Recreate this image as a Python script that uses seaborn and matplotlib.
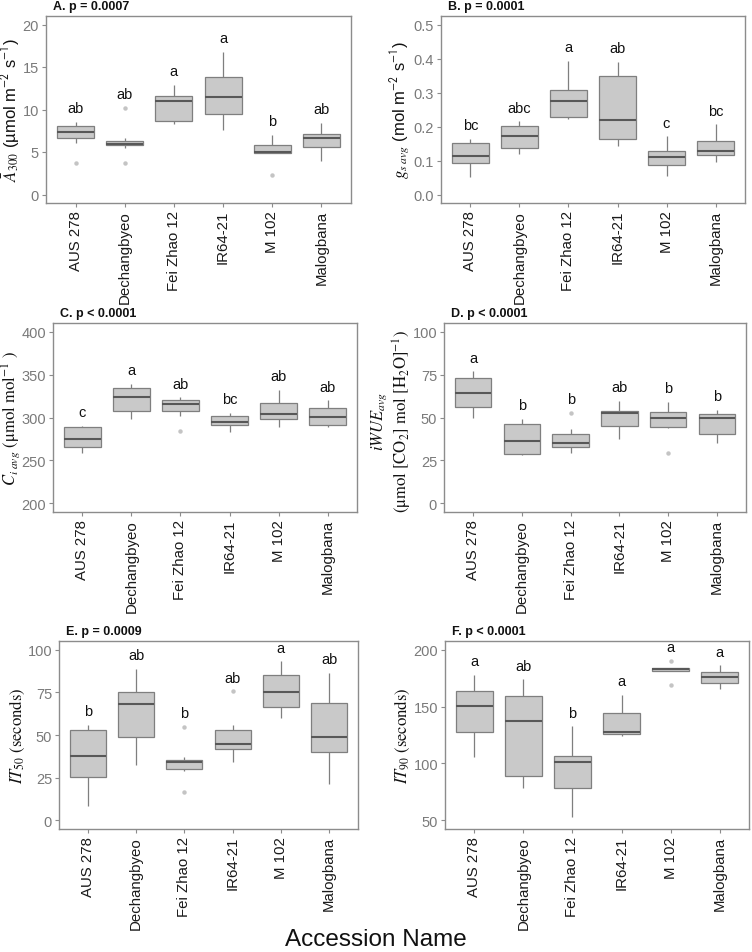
import numpy as np
import pandas as pd
import matplotlib
matplotlib.use("Agg")
import matplotlib.pyplot as plt
import seaborn as sns

sns.set_style("white")
plt.rcParams["font.family"] = ["Liberation Sans", "DejaVu Sans"]
plt.rcParams["mathtext.fontset"] = "stix"

accessions = ["AUS 278", "Dechangbyeo", "Fei Zhao 12", "IR64-21", "M 102", "Malogbana"]

# Panel A: A300
a_lo = [6.05, 5.46, 8.29, 7.54, 4.83, 4.00]
a_q1 = [6.64, 5.78, 8.64, 9.47, 4.83, 5.58]
a_med = [7.35, 5.93, 10.96, 11.47, 4.99, 6.68]
a_q3 = [8.09, 6.33, 11.63, 13.83, 5.85, 7.07]
a_hi = [8.53, 6.64, 12.93, 16.78, 7.03, 8.41]
a_out = [[3.65], [3.65, 10.2], [], [], [2.24], []]
a_letters = ["ab", "ab", "a", "a", "b", "ab"]

# Panel B: gs avg
b_lo = [0.051, 0.119, 0.223, 0.143, 0.053, 0.096]
b_q1 = [0.092, 0.136, 0.228, 0.163, 0.087, 0.116]
b_med = [0.113, 0.172, 0.274, 0.219, 0.110, 0.128]
b_q3 = [0.151, 0.201, 0.308, 0.348, 0.128, 0.157]
b_hi = [0.164, 0.215, 0.394, 0.391, 0.171, 0.207]
b_out = [[], [], [], [], [], []]
b_letters = ["bc", "abc", "a", "ab", "c", "bc"]

# Panel C: Ci avg
c_lo = [258.1, 298.8, 302.3, 283.3, 288.4, 289.1]
c_q1 = [266.0, 307.4, 307.4, 291.1, 297.7, 291.5]
c_med = [275.2, 324.4, 315.5, 294.6, 304.3, 300.8]
c_q3 = [288.4, 334.0, 320.9, 301.9, 317.0, 310.9]
c_hi = [290.0, 339.0, 323.3, 305.0, 331.8, 319.8]
c_out = [[], [], [284.5], [], [], []]
c_letters = ["c", "a", "ab", "bc", "ab", "ab"]

# Panel D: iWUE avg
d_lo = [49.8, 27.9, 29.6, 37.4, 44.0, 35.1]
d_q1 = [55.9, 28.9, 33.1, 44.8, 44.4, 40.4]
d_med = [64.1, 36.3, 34.9, 52.4, 50.0, 50.0]
d_q3 = [72.9, 46.1, 40.4, 53.6, 53.0, 51.9]
d_hi = [76.8, 49.0, 43.3, 59.6, 58.9, 54.4]
d_out = [[], [], [52.7], [], [29.4], []]
d_letters = ["a", "b", "b", "ab", "b", "b"]

# Panel E: IT50
e_lo = [8.4, 32.3, 28.8, 34.4, 59.9, 21.4]
e_q1 = [25.4, 49.0, 30.1, 42.1, 66.1, 40.0]
e_med = [37.8, 68.2, 34.0, 45.0, 75.3, 48.8]
e_q3 = [52.8, 75.3, 35.6, 52.8, 84.9, 68.6]
e_hi = [56.0, 88.9, 37.0, 55.6, 93.1, 86.5]
e_out = [[], [], [16.6, 54.6], [75.5], [], []]
e_letters = ["b", "ab", "b", "ab", "a", "ab"]

# Panel F: IT90
f_lo = [105.5, 78.1, 53.2, 124.5, 181.3, 165.6]
f_q1 = [127.9, 89.4, 78.9, 125.5, 181.3, 170.6]
f_med = [150.3, 137.5, 100.9, 127.9, 182.8, 176.1]
f_q3 = [163.7, 159.1, 106.4, 144.2, 183.7, 180.5]
f_hi = [177.6, 173.8, 132.5, 160.3, 183.7, 186.0]
f_out = [[], [], [], [], [168.5, 189.8], []]
f_letters = ["a", "ab", "b", "a", "a", "a"]

titles = ["A. p = 0.0007", "B. p = 0.0001", "C. p < 0.0001",
          "D. p < 0.0001", "E. p = 0.0009", "F. p < 0.0001"]

FILL = "#c9c9c9"
EDGE = "#7f7f7f"
MED = "#585858"
FLIER = "#c4c4c4"
SPINE = "#8c8c8c"
TICKC = "#7a7a7a"

W, H = 752, 953
fig = plt.figure(figsize=(W / 100, H / 100), dpi=100)


def rect(l, r, t, b):
    return [l / W, 1 - b / H, (r - l) / W, (b - t) / H]


def build(lo, q1, med, q3, hi, outs):
    rows = []
    for name, l, a, m, b, h, o in zip(accessions, lo, q1, med, q3, hi, outs):
        below = [v for v in o if v < a]
        above = [v for v in o if v > b]
        vals = [below[0] if below else l, l, a, m, m, m, b, h,
                above[0] if above else h]
        rows += [(name, v) for v in vals]
    return pd.DataFrame(rows, columns=["acc", "val"])


def panel(box, stats, letters, yticks, ylabels, title, ylab, ylab_x, serif,
          ylab_size=12, ylab_dy=0):
    l, r, t, b = box
    ax = fig.add_axes(rect(l, r, t, b))
    df = build(*stats)
    sns.boxplot(data=df, x="acc", y="val", order=accessions, ax=ax,
                color=FILL, saturation=1, width=0.75, linewidth=0.9,
                linecolor=EDGE, showcaps=False, whis=1.5,
                flierprops=dict(marker="o", markersize=3.2,
                                markerfacecolor=FLIER, markeredgecolor="none"),
                medianprops=dict(color=MED, linewidth=1.5))
    span = yticks[-1] - yticks[0]
    ax.set_ylim(yticks[0] - 0.05 * span, yticks[-1] + 0.05 * span)
    ax.set_xlim(-0.6, 5.6)
    ax.set_yticks(yticks)
    ax.set_yticklabels(ylabels)
    ax.set_xlabel("")
    ax.set_ylabel("")
    for i, g in enumerate(accessions):
        top = df.loc[df.acc == g, "val"].max()
        ax.text(i, top + 0.08 * span, letters[i], ha="center", va="center",
                fontsize=10.5, color="#111111")
    for s in ax.spines.values():
        s.set_visible(True)
        s.set_color(SPINE)
        s.set_linewidth(1.0)
    ax.tick_params(axis="both", length=3, width=0.8, color=SPINE, pad=2,
                   left=True, bottom=True)
    ax.tick_params(axis="y", labelcolor=TICKC, labelsize=10.5)
    ax.tick_params(axis="x", labelcolor="#1a1a1a", labelsize=10.8,
                   labelrotation=90)
    fig.text((l + 7) / W, 1 - (t - 10) / H, title, fontsize=9,
             fontweight="bold", ha="left", va="center", color="#111111")
    fam = ["STIXGeneral", "DejaVu Serif"] if serif else ["Liberation Sans", "DejaVu Sans"]
    fig.text(ylab_x / W, 1 - ((t + b) / 2 + ylab_dy) / H, ylab, rotation=90,
             ha="center", va="center", fontsize=ylab_size, family=fam,
             math_fontfamily="stix", color="#111111", multialignment="center",
             linespacing=1.1)
    return ax


panel((46, 351, 17, 204), (a_lo, a_q1, a_med, a_q3, a_hi, a_out), a_letters,
      [0, 5, 10, 15, 20], ["0", "5", "10", "15", "20"], titles[0],
      r"$\bar{A}_{300}$ (µmol m$^{\mathsf{-2}}$ s$^{\mathsf{-1}}$)", 11, False)
panel((441, 745, 17, 204), (b_lo, b_q1, b_med, b_q3, b_hi, b_out), b_letters,
      [0, 0.1, 0.2, 0.3, 0.4, 0.5], ["0.0", "0.1", "0.2", "0.3", "0.4", "0.5"],
      titles[1], r"$g_{s\ avg}$ (mol m$^{\mathsf{-2}}$ s$^{\mathsf{-1}}$)", 400, False)
panel((53, 357, 324, 513), (c_lo, c_q1, c_med, c_q3, c_hi, c_out), c_letters,
      [200, 250, 300, 350, 400], ["200", "250", "300", "350", "400"], titles[2],
      r"$C_{i\ avg}$ (μmol mol$^{-1}$ )", 11, True)
panel((444, 746, 324, 513), (d_lo, d_q1, d_med, d_q3, d_hi, d_out), d_letters,
      [0, 25, 50, 75, 100], ["0", "25", "50", "75", "100"], titles[3],
      r"$iWUE_{avg}$" + "\n" + r"(μmol [CO$_2$] mol [H$_2$O]$^{-1}$)", 392, True,
      ylab_size=12, ylab_dy=3)
panel((59, 358, 642, 830), (e_lo, e_q1, e_med, e_q3, e_hi, e_out), e_letters,
      [0, 25, 50, 75, 100], ["0", "25", "50", "75", "100"], titles[4],
      r"$IT_{50}$ (seconds)", 17, True)
panel((445, 749, 642, 830), (f_lo, f_q1, f_med, f_q3, f_hi, f_out), f_letters,
      [50, 100, 150, 200], ["50", "100", "150", "200"], titles[5],
      r"$IT_{90}$ (seconds)", 402, True)

fig.text(376 / W, 1 - 940 / H, "Accession Name", ha="center", va="center",
         fontsize=17.5, family=["Liberation Sans Narrow", "Liberation Sans"],
         color="#111111")

fig.savefig("out.png", dpi=100, facecolor="white")
